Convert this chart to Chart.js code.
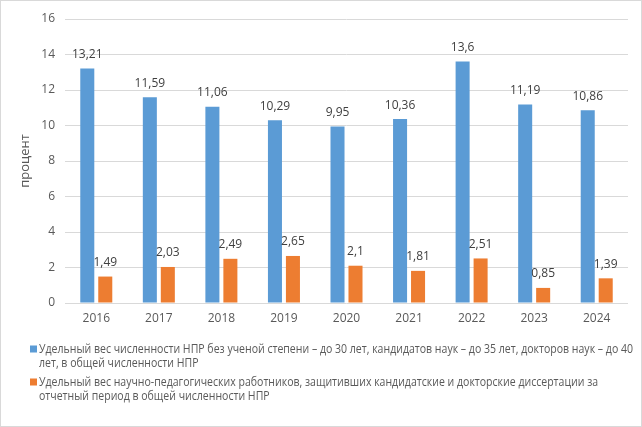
<!DOCTYPE html>
<html lang="ru">
<head>
<meta charset="UTF-8">
<title>Удельный вес НПР</title>
<script src="https://cdn.jsdelivr.net/npm/chart.js"></script>
<style>
  body { margin: 0; background: #fff; }
  .grafica { width: 642px; height: 427px; position: relative; }
</style>
</head>
<body>
<div class="grafica">
  <canvas id="myChart"></canvas>
</div>
<script>
// данные с графика
const years = ['2016', '2017', '2018', '2019', '2020', '2021', '2022', '2023', '2024'];
const youngShare = [13.21, 11.59, 11.06, 10.29, 9.95, 10.36, 13.6, 11.19, 10.86];
const defendedShare = [1.49, 2.03, 2.49, 2.65, 2.1, 1.81, 2.51, 0.85, 1.39];
const yTicks = [0, 2, 4, 6, 8, 10, 12, 14, 16];

const legendLines = [
  ['Удельный вес численности НПР без ученой степени – до 30 лет, кандидатов наук – до 35 лет, докторов наук – до 40',
   'лет, в общей численности НПР'],
  ['Удельный вес научно-педагогических работников, защитивших кандидатские и докторские диссертации за',
   'отчетный период в общей численности НПР']
];

const blue = '#5B9BD5';
const orange = '#ED7D31';
const textColor = '#595959';
const fontFamily = '"Open Sans", "Noto Sans", sans-serif';

// подписи значений над столбцами
const valueLabels = {
  id: 'valueLabels',
  afterDatasetsDraw(chart) {
    const ctx = chart.ctx;
    ctx.save();
    ctx.font = '12px ' + fontFamily;
    ctx.fillStyle = '#404040';
    ctx.textAlign = 'center';
    ctx.textBaseline = 'middle';
    chart.data.datasets.forEach((ds, i) => {
      chart.getDatasetMeta(i).data.forEach((bar, j) => {
        const txt = String(ds.data[j]).replace('.', ',');
        ctx.fillText(txt, bar.x, bar.y - 14);
      });
    });
    ctx.restore();
  }
};

// легенда с переносом строк + рамка
const wrapLegend = {
  id: 'wrapLegend',
  afterDraw(chart) {
    const ctx = chart.ctx;
    ctx.save();
    ctx.font = '12.5px ' + fontFamily;
    ctx.textBaseline = 'middle';
    ctx.textAlign = 'left';
    // одинаковое сжатие по горизонтали для всех строк
    const sx = Math.min(1, 594 / ctx.measureText(legendLines[0][0]).width);
    const colors = [blue, orange];
    const starts = [349, 382];
    legendLines.forEach((lines, i) => {
      ctx.fillStyle = colors[i];
      ctx.fillRect(30, starts[i] - 3.5, 7, 7);
      ctx.fillStyle = textColor;
      lines.forEach((line, k) => {
        ctx.save();
        ctx.translate(39, starts[i] + k * 14.5);
        ctx.scale(sx, 1);
        ctx.fillText(line, 0, 0);
        ctx.restore();
      });
    });
    ctx.strokeStyle = '#d9d9d9';
    ctx.lineWidth = 1;
    ctx.strokeRect(0.5, 0.5, chart.width - 1, chart.height - 1);
    ctx.restore();
  }
};

function confGrafica() {
  return {
    type: 'bar',
    data: {
      labels: years,
      datasets: [
        { label: legendLines[0].join(' '), data: youngShare, backgroundColor: blue,
          categoryPercentage: 0.575, barPercentage: 0.78 },
        { label: legendLines[1].join(' '), data: defendedShare, backgroundColor: orange,
          categoryPercentage: 0.575, barPercentage: 0.78 }
      ]
    },
    options: {
      responsive: true,
      maintainAspectRatio: false,
      animation: false,
      layout: { padding: { top: 19, right: 14, bottom: 99, left: 0 } },
      plugins: {
        legend: { display: false },
        tooltip: { enabled: false }
      },
      scales: {
        x: {
          grid: { display: false, drawTicks: false },
          border: { display: false },
          ticks: { color: textColor, font: { size: 12, family: fontFamily }, padding: 8 },
          afterFit(scale) { scale.height = 25; }
        },
        y: {
          min: 0,
          max: 16,
          afterBuildTicks(scale) { scale.ticks = yTicks.map(v => ({ value: v })); },
          grid: { color: '#d9d9d9', drawTicks: false },
          border: { display: false },
          ticks: { color: textColor, font: { size: 12, family: fontFamily }, padding: 10 },
          title: {
            display: true,
            text: 'процент',
            color: textColor,
            font: { size: 13, family: fontFamily },
            padding: { top: 17, bottom: 0 }
          },
          afterFit(scale) { scale.width = 65; }
        }
      }
    },
    plugins: [valueLabels, wrapLegend]
  };
}

new Chart(document.getElementById('myChart'), confGrafica());
</script>
</body>
</html>
